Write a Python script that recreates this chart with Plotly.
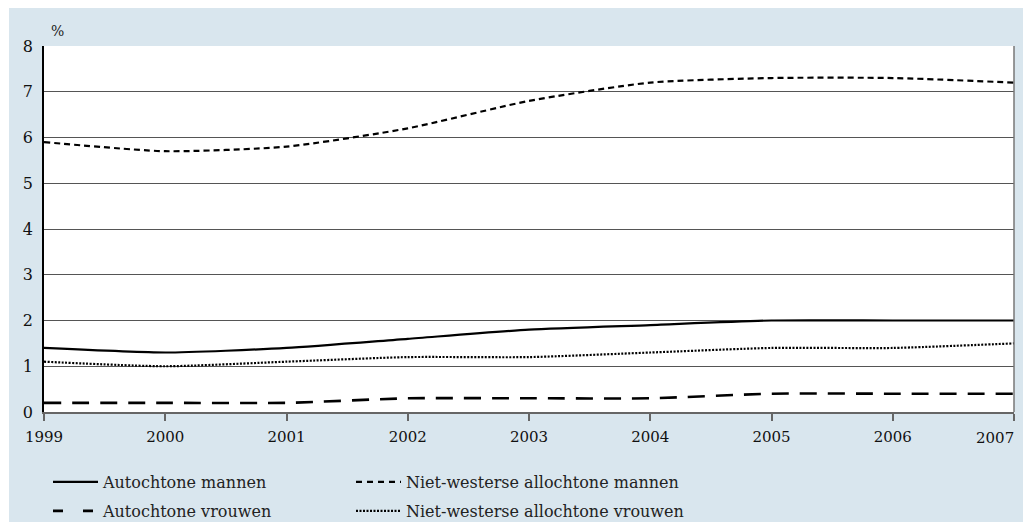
import plotly.graph_objects as go

# Years on the x axis
years = [1999, 2000, 2001, 2002, 2003, 2004, 2005, 2006, 2007]

# Percentages per group
autochtone_mannen = [1.4, 1.3, 1.4, 1.6, 1.8, 1.9, 2.0, 2.0, 2.0]
autochtone_vrouwen = [0.2, 0.2, 0.2, 0.3, 0.3, 0.3, 0.4, 0.4, 0.4]
nw_allochtone_mannen = [5.9, 5.7, 5.8, 6.2, 6.8, 7.2, 7.3, 7.3, 7.2]
nw_allochtone_vrouwen = [1.1, 1.0, 1.1, 1.2, 1.2, 1.3, 1.4, 1.4, 1.5]

y_ticks = [0, 1, 2, 3, 4, 5, 6, 7, 8]

FONT = "DejaVu Serif"
BLUE = "#d9e6ee"
W, H = 1023, 526
L, R, T, B = 44, 9, 46, 114

fig = go.Figure()

# (name, values, dash on the chart, dash in the legend key, width, legend id)
series = [
    ("Autochtone mannen", autochtone_mannen, "solid", "solid", 2.2, "legend"),
    ("Niet-westerse allochtone mannen", nw_allochtone_mannen, "6px,4px", "6px,5px", 2.2, "legend2"),
    ("Autochtone vrouwen", autochtone_vrouwen, "17px,11px", "10px,20px", 2.6, "legend3"),
    ("Niet-westerse allochtone vrouwen", nw_allochtone_vrouwen, "2px,1.5px", "2px,1.5px", 2.2, "legend4"),
]
for name, vals, dash, key_dash, width, leg in series:
    fig.add_trace(go.Scatter(
        x=years, y=vals, name=name, mode="lines", showlegend=False,
        line=dict(color="#000000", width=width, dash=dash, shape="spline", smoothing=0.6),
        hoverinfo="skip",
    ))
    # legend key entry with its own dash rhythm
    fig.add_trace(go.Scatter(
        x=[None], y=[None], name=name, mode="lines", legend=leg,
        line=dict(color="#000000", width=width, dash=key_dash),
        hoverinfo="skip",
    ))

pw = W - L - R
ph = H - T - B

# Light blue panel behind the chart, with a thin white edge at top/left/bottom
fig.add_shape(type="rect", xref="paper", yref="paper", layer="below",
              x0=(9 - L) / pw, x1=(W - L) / pw,
              y0=-(522 - T - ph) / ph, y1=1 + (T - 8) / ph,
              fillcolor=BLUE, line_width=0)
# White plotting area
fig.add_shape(type="rect", xref="x domain", yref="y domain", layer="below",
              x0=0, x1=1, y0=0, y1=1, fillcolor="#ffffff", line_width=0)
# Right border of the plotting area
fig.add_shape(type="line", xref="x domain", yref="y domain",
              x0=1, x1=1, y0=0, y1=1, line=dict(color="#777777", width=1.5))

fig.add_annotation(text="%", xref="paper", yref="paper",
                   x=(49 - L) / pw, y=1 + (T - 31) / ph, xanchor="left", yanchor="middle",
                   showarrow=False, font=dict(family=FONT, size=14, color="#222222"))

# Last year label sits flush against the right edge of the axis
tick_text = [str(y) for y in years[:-1]] + [""]
fig.add_annotation(text=str(years[-1]), xref="x", yref="paper",
                   x=years[-1], y=0, yshift=-26, xanchor="right", yanchor="middle",
                   xshift=2, showarrow=False,
                   font=dict(family=FONT, size=15, color="#111111"))


def legend_box(x_px, y_px):
    return dict(
        orientation="h", xref="container", yref="container",
        x=x_px / W, y=1 - y_px / H, xanchor="left", yanchor="middle",
        bgcolor="rgba(0,0,0,0)", itemwidth=45,
        font=dict(family=FONT, size=16, color="#222222"),
    )


fig.update_layout(
    width=W, height=H,
    margin=dict(l=L, r=R, t=T, b=B, pad=0, autoexpand=False),
    paper_bgcolor="#ffffff",
    plot_bgcolor="rgba(0,0,0,0)",
    showlegend=True,
    legend=legend_box(48, 482),
    legend2=legend_box(351, 482),
    legend3=legend_box(48, 511),
    legend4=legend_box(351, 511),
    xaxis=dict(
        range=[1999, 2007], tickvals=years, ticktext=tick_text,
        showgrid=False, zeroline=False, automargin=False,
        showline=True, linecolor="#666666", linewidth=1.5,
        ticks="outside", ticklen=7, tickcolor="#666666", tickwidth=1.5,
        ticklabelstandoff=3, tickangle=0,
        tickfont=dict(family=FONT, size=15, color="#111111"),
    ),
    yaxis=dict(
        range=[0, 8], tickvals=y_ticks, automargin=False,
        showgrid=True, gridcolor="#555555", gridwidth=1,
        zeroline=False, showline=True, linecolor="#000000", linewidth=1.5,
        ticks="", ticklabelstandoff=6,
        tickfont=dict(family=FONT, size=16, color="#111111"),
    ),
)

fig.write_html("out.html")
